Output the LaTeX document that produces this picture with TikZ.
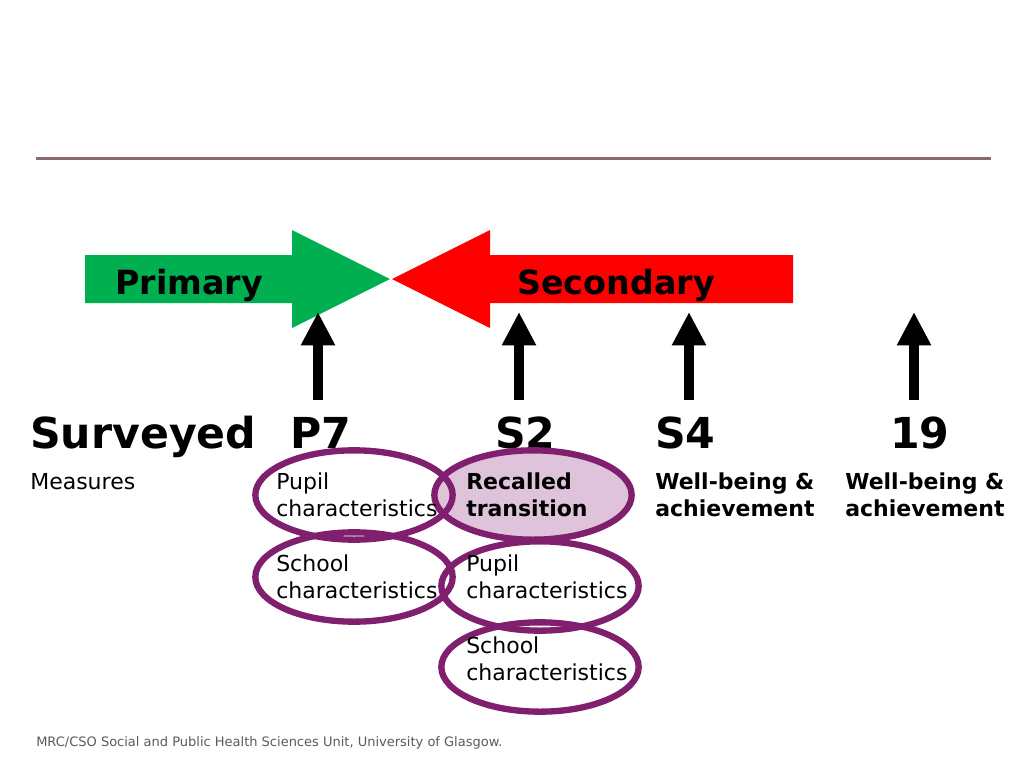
\documentclass[tikz,border=0pt]{standalone}
\usepackage{fontspec}
\setmainfont{DejaVu Sans}
\usepackage{tikz}
\usetikzlibrary{arrows.meta, positioning, shapes.geometric}
\definecolor{bandgreen}{HTML}{00B050}
\definecolor{bandred}{HTML}{FF0000}
\definecolor{ringpurple}{HTML}{7F1F6E}
\definecolor{ringfill}{HTML}{DFC3DB}
\definecolor{rulebrown}{HTML}{8A6A6A}
\definecolor{footgray}{HTML}{5A5A5A}

\begin{document}
\begin{tikzpicture}[x=0.75pt, y=-0.75pt,
  big/.style={anchor=base west, inner sep=0, font=\fontsize{32}{38}\selectfont\bfseries},
  small/.style={anchor=base west, inner sep=0, align=left, font=\fontsize{16.5}{20.25}\selectfont},
  smallbold/.style={small, font=\fontsize{16.5}{20.25}\selectfont\bfseries},
  band/.style={anchor=base, inner sep=0, font=\fontsize{25}{29}\selectfont\bfseries},
  ring/.style={ellipse, draw=ringpurple, line width=4.75pt, minimum width=148pt, minimum height=67pt, inner sep=0},
  uparrow/.style={line width=7.5pt, -{Triangle[width=24pt, length=25pt]}}
]
  \useasboundingbox (0,0) rectangle (1024,768);

  % title rule
  \coordinate (ruleL) at (36,158);
  \coordinate (ruleR) at (991,158);
  \draw[rulebrown, line width=2.25pt] (ruleL) -- (ruleR);

  % primary / secondary band
  \fill[bandgreen] (85,255) -- (292,255) -- (292,230) -- (390,279) -- (292,328) -- (292,303) -- (85,303) -- cycle;
  \fill[bandred] (392,279) -- (490,230) -- (490,255) -- (793,255) -- (793,303) -- (490,303) -- (490,328) -- cycle;
  \node[band] (primary) at (189,294) {Primary};
  \node[band] (secondary) at (616,294) {Secondary};

  % survey points
  \foreach \name/\x in {p7/318, s2/519, s4/689, age19/914} {
    \coordinate (\name foot) at (\x,400);
    \coordinate (\name tip) at (\x,312);
    \draw[uparrow] (\name foot) -- (\name tip);
  }

  \node[big] (surveyed) at (30,448) {Surveyed};
  \node[big] (p7) at (290,448) {P7};
  \node[big] (s2) at (495,448) {S2};
  \node[big] (s4) at (655,448) {S4};
  \node[big] (age19) at (890,448) {19};

  % measures (base = last line)
  \node[ring, fill=ringfill] (recallring) at (533,495) {};
  \node[ring] (pupilP7ring) at (354,495) {};
  \node[ring] (schoolP7ring) at (354,577) {};
  \node[ring] (pupilS2ring) at (540,586) {};
  \node[ring] (schoolS2ring) at (540,667) {};

  \node[small] (measures) at (30,489) {Measures};
  \node[small] (pupilP7) at (276,516) {Pupil\\characteristics};
  \node[small] (schoolP7) at (276,598) {School\\characteristics};
  \node[smallbold] (recall) at (466,516) {Recalled\\transition};
  \node[small] (pupilS2) at (466,598) {Pupil\\characteristics};
  \node[small] (schoolS2) at (466,680) {School\\characteristics};
  \node[smallbold] (wellS4) at (655,516) {Well-being \&\\achievement};
  \node[smallbold] (well19) at (845,516) {Well-being \&\\achievement};

  \node[anchor=base west, inner sep=0, text=footgray, font=\fontsize{9.75}{12}\selectfont] (footer) at (36,746) {MRC/CSO Social and Public Health Sciences Unit, University of Glasgow.};
\end{tikzpicture}
\end{document}
